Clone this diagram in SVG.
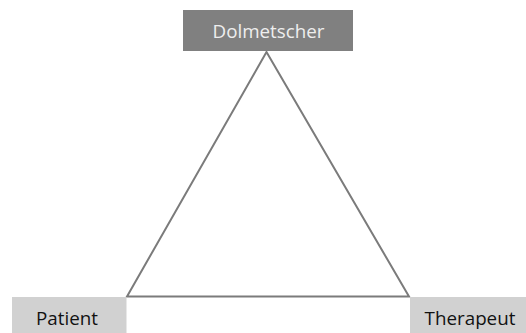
<svg xmlns="http://www.w3.org/2000/svg" width="526" height="333" viewBox="0 0 526 333">
  <style>
    .lbl { font-family: "Open Sans", "Liberation Sans", sans-serif; font-size: 18.8px; text-anchor: middle; }
    .edge { fill: none; stroke: #7b7b7b; stroke-width: 2; stroke-linejoin: miter; }
  </style>
  <rect width="526" height="333" fill="#ffffff"/>
  <g id="connectors">
    <path class="edge" d="M127 296.5 L266.5 52 L409 296.5 Z"/>
  </g>
  <g id="dolmetscher">
    <rect x="183" y="10" width="170" height="41" fill="#808080"/>
    <text class="lbl" x="268.5" y="38" fill="#eeeeee">Dolmetscher</text>
  </g>
  <g id="patient">
    <rect x="12" y="297" width="114.5" height="36" fill="#d1d1d1"/>
    <text class="lbl" x="67" y="324.5" fill="#111111">Patient</text>
  </g>
  <g id="therapeut">
    <rect x="410" y="297" width="116" height="36" fill="#d1d1d1"/>
    <text class="lbl" x="470" y="324.5" fill="#111111">Therapeut</text>
  </g>
</svg>
